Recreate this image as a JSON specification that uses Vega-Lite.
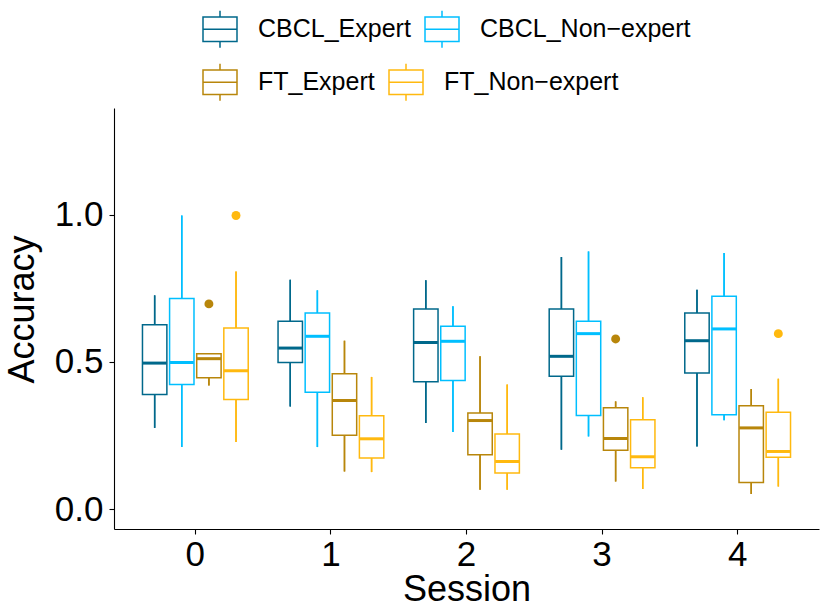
{
  "$schema": "https://vega.github.io/schema/vega-lite/v6.json",
  "width": 705,
  "height": 421,
  "autosize": {"type": "none"},
  "padding": {"left": 114, "top": 108, "right": 11, "bottom": 81},
  "config": {
    "font": "Liberation Sans",
    "view": {"stroke": null},
    "axis": {
      "grid": false,
      "domainColor": "#000000",
      "domainWidth": 1.1,
      "tickColor": "#000000",
      "tickWidth": 1.1,
      "tickSize": 5,
      "labelColor": "#000000",
      "labelFontSize": 35,
      "titleFontSize": 36,
      "titleFontWeight": "normal",
      "titleColor": "#000000"
    },
    "legend": {
      "orient": "none",
      "direction": "horizontal",
      "columns": 2,
      "title": null,
      "padding": 0,
      "symbolType": "M-1,-0.72H1V0.72H-1Z M-1,0H1 M0,-0.72V-1.09 M0,0.72V1.09",
      "symbolSize": 1156,
      "symbolStrokeWidth": 1.5,
      "symbolFillColor": "transparent",
      "labelFontSize": 25,
      "labelLimit": 0,
      "labelColor": "#000000",
      "labelOffset": 20,
      "columnPadding": 11
    }
  },
  "datasets": {
    "boxes": [
      {"session": 0, "group": "CBCL_Expert", "lo": 0.276, "q1": 0.389, "med": 0.496, "q3": 0.626, "hi": 0.726},
      {"session": 0, "group": "CBCL_Non-expert", "lo": 0.211, "q1": 0.423, "med": 0.498, "q3": 0.715, "hi": 0.997},
      {"session": 0, "group": "FT_Expert", "lo": 0.420, "q1": 0.446, "med": 0.511, "q3": 0.528, "hi": 0.528},
      {"session": 0, "group": "FT_Non-expert", "lo": 0.228, "q1": 0.372, "med": 0.470, "q3": 0.615, "hi": 0.807},
      {"session": 1, "group": "CBCL_Expert", "lo": 0.349, "q1": 0.498, "med": 0.547, "q3": 0.638, "hi": 0.779},
      {"session": 1, "group": "CBCL_Non-expert", "lo": 0.211, "q1": 0.397, "med": 0.587, "q3": 0.666, "hi": 0.743},
      {"session": 1, "group": "FT_Expert", "lo": 0.128, "q1": 0.251, "med": 0.369, "q3": 0.460, "hi": 0.572},
      {"session": 1, "group": "FT_Non-expert", "lo": 0.126, "q1": 0.174, "med": 0.239, "q3": 0.317, "hi": 0.449},
      {"session": 2, "group": "CBCL_Expert", "lo": 0.293, "q1": 0.433, "med": 0.566, "q3": 0.680, "hi": 0.777},
      {"session": 2, "group": "CBCL_Non-expert", "lo": 0.262, "q1": 0.437, "med": 0.570, "q3": 0.621, "hi": 0.689},
      {"session": 2, "group": "FT_Expert", "lo": 0.066, "q1": 0.185, "med": 0.301, "q3": 0.327, "hi": 0.519},
      {"session": 2, "group": "FT_Non-expert", "lo": 0.066, "q1": 0.123, "med": 0.162, "q3": 0.255, "hi": 0.423},
      {"session": 3, "group": "CBCL_Expert", "lo": 0.202, "q1": 0.451, "med": 0.519, "q3": 0.680, "hi": 0.856},
      {"session": 3, "group": "CBCL_Non-expert", "lo": 0.247, "q1": 0.318, "med": 0.596, "q3": 0.638, "hi": 0.875},
      {"session": 3, "group": "FT_Expert", "lo": 0.094, "q1": 0.200, "med": 0.240, "q3": 0.344, "hi": 0.366},
      {"session": 3, "group": "FT_Non-expert", "lo": 0.069, "q1": 0.141, "med": 0.178, "q3": 0.304, "hi": 0.380},
      {"session": 4, "group": "CBCL_Expert", "lo": 0.213, "q1": 0.462, "med": 0.572, "q3": 0.666, "hi": 0.745},
      {"session": 4, "group": "CBCL_Non-expert", "lo": 0.302, "q1": 0.321, "med": 0.612, "q3": 0.723, "hi": 0.870},
      {"session": 4, "group": "FT_Expert", "lo": 0.052, "q1": 0.091, "med": 0.276, "q3": 0.351, "hi": 0.408},
      {"session": 4, "group": "FT_Non-expert", "lo": 0.077, "q1": 0.176, "med": 0.196, "q3": 0.329, "hi": 0.443}
    ],
    "outliers": [
      {"session": 0, "group": "FT_Expert", "value": 0.697},
      {"session": 0, "group": "FT_Non-expert", "value": 0.997},
      {"session": 3, "group": "FT_Expert", "value": 0.578},
      {"session": 4, "group": "FT_Non-expert", "value": 0.596}
    ]
  },
  "encoding": {
    "x": {
      "field": "session",
      "type": "ordinal",
      "title": "Session",
      "scale": {"paddingInner": 0.2, "paddingOuter": 0.2},
      "axis": {"labelAngle": 0, "labelPadding": 3, "titlePadding": 0}
    },
    "xOffset": {
      "field": "group",
      "type": "nominal",
      "scale": {
        "domain": ["CBCL_Expert", "CBCL_Non-expert", "FT_Expert", "FT_Non-expert"],
        "paddingInner": 0.1,
        "paddingOuter": 0.05
      }
    }
  },
  "layer": [
    {
      "data": {"name": "boxes"},
      "mark": {"type": "rule", "strokeWidth": 1.5},
      "encoding": {
        "y": {
          "field": "lo",
          "type": "quantitative",
          "title": "Accuracy",
          "scale": {"domain": [-0.0672, 1.362], "nice": false, "zero": false},
          "axis": {"values": [0, 0.5, 1], "format": ".1f", "labelPadding": 6, "titlePadding": 13, "titleY": 201}
        },
        "y2": {"field": "hi"},
        "stroke": {
          "field": "group",
          "type": "nominal",
          "scale": {
            "domain": ["CBCL_Expert", "CBCL_Non-expert", "FT_Expert", "FT_Non-expert"],
            "range": ["#00688B", "#00BFFF", "#B8860B", "#FFB90F"]
          },
          "legend": {
            "values": ["CBCL_Expert", "CBCL_Non-expert"],
            "legendX": 88,
            "legendY": -97,
            "labelExpr": "replace(datum.label, '-', '\u2212')",
            "encode": {
              "symbols": {
                "update": {"fill": {"value": "transparent"}, "fillOpacity": {"value": 0}, "stroke": {"scale": "stroke", "field": "value"}}
              }
            }
          }
        }
      }
    },
    {
      "data": {"name": "boxes"},
      "mark": {"type": "rule", "strokeWidth": 1.5},
      "encoding": {
        "y": {"field": "lo", "type": "quantitative"},
        "y2": {"field": "hi"},
        "color": {
          "field": "group",
          "type": "nominal",
          "scale": {
            "domain": ["FT_Expert", "FT_Non-expert", "CBCL_Expert", "CBCL_Non-expert"],
            "range": ["#B8860B", "#FFB90F", "#00688B", "#00BFFF"]
          },
          "legend": {
            "values": ["FT_Expert", "FT_Non-expert"],
            "legendX": 88,
            "legendY": -44,
            "labelExpr": "replace(datum.label, '-', '\u2212')",
            "encode": {
              "symbols": {
                "update": {"fill": {"value": "transparent"}, "fillOpacity": {"value": 0}, "stroke": {"scale": "color", "field": "value"}}
              }
            }
          }
        }
      }
    },
    {
      "data": {"name": "boxes"},
      "mark": {"type": "bar", "fill": "white", "strokeWidth": 1.5},
      "encoding": {
        "y": {"field": "q1", "type": "quantitative"},
        "y2": {"field": "q3"},
        "stroke": {"field": "group", "type": "nominal"}
      }
    },
    {
      "data": {"name": "boxes"},
      "mark": {"type": "tick", "thickness": 3, "size": 24, "opacity": 1},
      "encoding": {
        "y": {"field": "med", "type": "quantitative"},
        "fill": {
          "field": "group",
          "type": "nominal",
          "scale": {
            "domain": ["CBCL_Expert", "CBCL_Non-expert", "FT_Expert", "FT_Non-expert"],
            "range": ["#00688B", "#00BFFF", "#B8860B", "#FFB90F"]
          },
          "legend": null
        }
      }
    },
    {
      "data": {"name": "outliers"},
      "mark": {"type": "point", "filled": true, "opacity": 1, "size": 80},
      "encoding": {
        "y": {"field": "value", "type": "quantitative"},
        "fill": {"field": "group", "type": "nominal", "legend": null}
      }
    }
  ]
}
